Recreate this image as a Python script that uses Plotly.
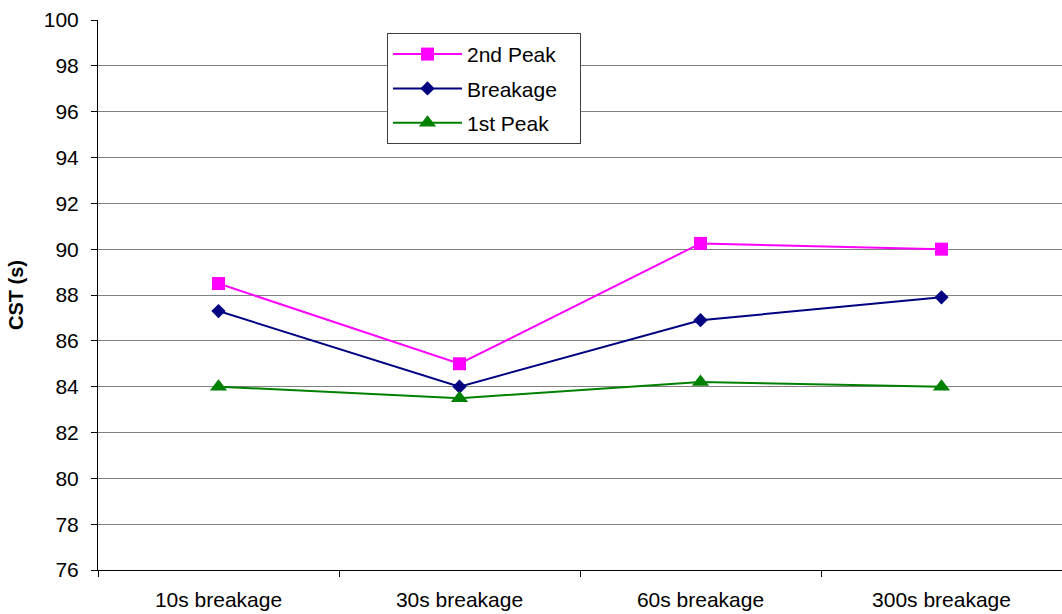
import plotly.graph_objects as go

categories = ["10s breakage", "30s breakage", "60s breakage", "300s breakage"]
peak2 = [88.5, 85.0, 90.25, 90.0]
breakage = [87.3, 84.0, 86.9, 87.9]
peak1 = [84.0, 83.5, 84.2, 84.0]

PAD = "\u00a0\u00a0\u00a0"

fig = go.Figure()
fig.add_trace(go.Scatter(x=categories, y=peak2, name="2nd Peak", mode="lines+markers",
                         line=dict(color="#FF00FF", width=2),
                         marker=dict(symbol="square", size=13, color="#FF00FF"),
                         legendgroup="a"))
fig.add_trace(go.Scatter(x=categories, y=breakage, name="Breakage" + PAD, mode="lines+markers",
                         line=dict(color="#000080", width=2),
                         marker=dict(symbol="diamond", size=11, color="#000080"),
                         legendgroup="b"))
fig.add_trace(go.Scatter(x=categories, y=peak1, name="1st Peak", mode="lines+markers",
                         line=dict(color="#008000", width=2),
                         marker=dict(symbol="triangle-up", size=15, color="#008000"),
                         legendgroup="c"))

fig.update_layout(
    width=1062, height=614,
    margin=dict(l=98, r=0, t=20, b=44),
    paper_bgcolor="white", plot_bgcolor="white",
    font=dict(family="Liberation Sans, Arial, sans-serif", size=21, color="black"),
    showlegend=True,
    legend=dict(x=0.2998, y=0.9765, xanchor="left", yanchor="top",
                bordercolor="#404040", borderwidth=1, bgcolor="white",
                font=dict(size=21), traceorder="grouped", tracegroupgap=4,
                itemwidth=69),
    xaxis=dict(type="category", range=[-0.5, 3.5], showline=True, linecolor="black",
               linewidth=1, ticks="outside", tickson="boundaries", ticklen=6,
               tickcolor="black", showgrid=False, zeroline=False, automargin=False,
               ticklabelstandoff=11),
    yaxis=dict(range=[76, 100], dtick=2, showline=True, linecolor="black", linewidth=1,
               ticks="outside", ticklen=6, tickcolor="black", showgrid=True,
               gridcolor="#808080", gridwidth=1, zeroline=False, automargin=False,
               ticklabelstandoff=8,
               title=dict(text="<b>CST (s)</b>", font=dict(size=20), standoff=14)),
)

fig.write_html("out.html")
